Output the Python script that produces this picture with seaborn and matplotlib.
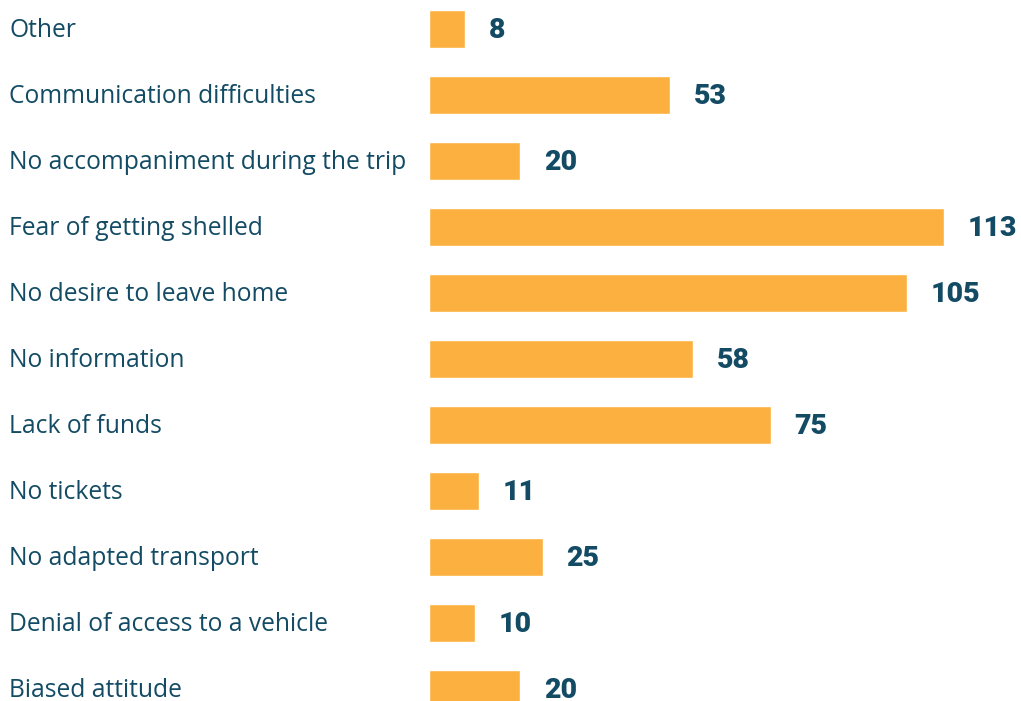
import matplotlib
matplotlib.use("Agg")
import matplotlib.pyplot as plt
import seaborn as sns
import pandas as pd

# Reasons given, top to bottom, with respondent counts
reasons = [
    "Other",
    "Communication difficulties",
    "No accompaniment during the trip",
    "Fear of getting shelled",
    "No desire to leave home",
    "No information",
    "Lack of funds",
    "No tickets",
    "No adapted transport",
    "Denial of access to a vehicle",
    "Biased attitude",
]
counts = [8, 53, 20, 113, 105, 58, 75, 11, 25, 10, 20]

BAR = "#FBB040"
INK = "#134B64"

sns.set_theme(style="white")
plt.rcParams["font.family"] = ["Open Sans", "DejaVu Sans"]

df = pd.DataFrame({"reason": reasons, "count": counts})

fig = plt.figure(figsize=(10.21, 7.01), dpi=100)
ax = fig.add_axes([429 / 1021, -21 / 701, 592 / 1021, 726 / 701])

sns.barplot(data=df, y="reason", x="count", orient="h", color=BAR,
            saturation=1, width=0.58, ax=ax)

ax.set_xlim(0, 130)
ax.set_ylim(len(reasons) - 0.5, -0.5)
ax.set_xlabel("")
ax.set_ylabel("")
ax.set_xticks([])
ax.set_yticks([])
for s in ax.spines.values():
    s.set_visible(False)

for i, (r, c) in enumerate(zip(reasons, counts)):
    # category name at the left edge of the figure
    ax.annotate(r, xy=(0, i), xycoords=("figure fraction", "data"),
                xytext=(6.5, -0.8), textcoords="offset points",
                ha="left", va="center", fontsize=17.7, color=INK)
    # value after the bar end
    ax.annotate(str(c), xy=(c, i), xytext=(17, -1.2), textcoords="offset points",
                ha="left", va="center", fontsize=20.5, fontweight="black",
                family=["Roboto", "DejaVu Sans"], color=INK)

fig.savefig("out.png", dpi=100)
